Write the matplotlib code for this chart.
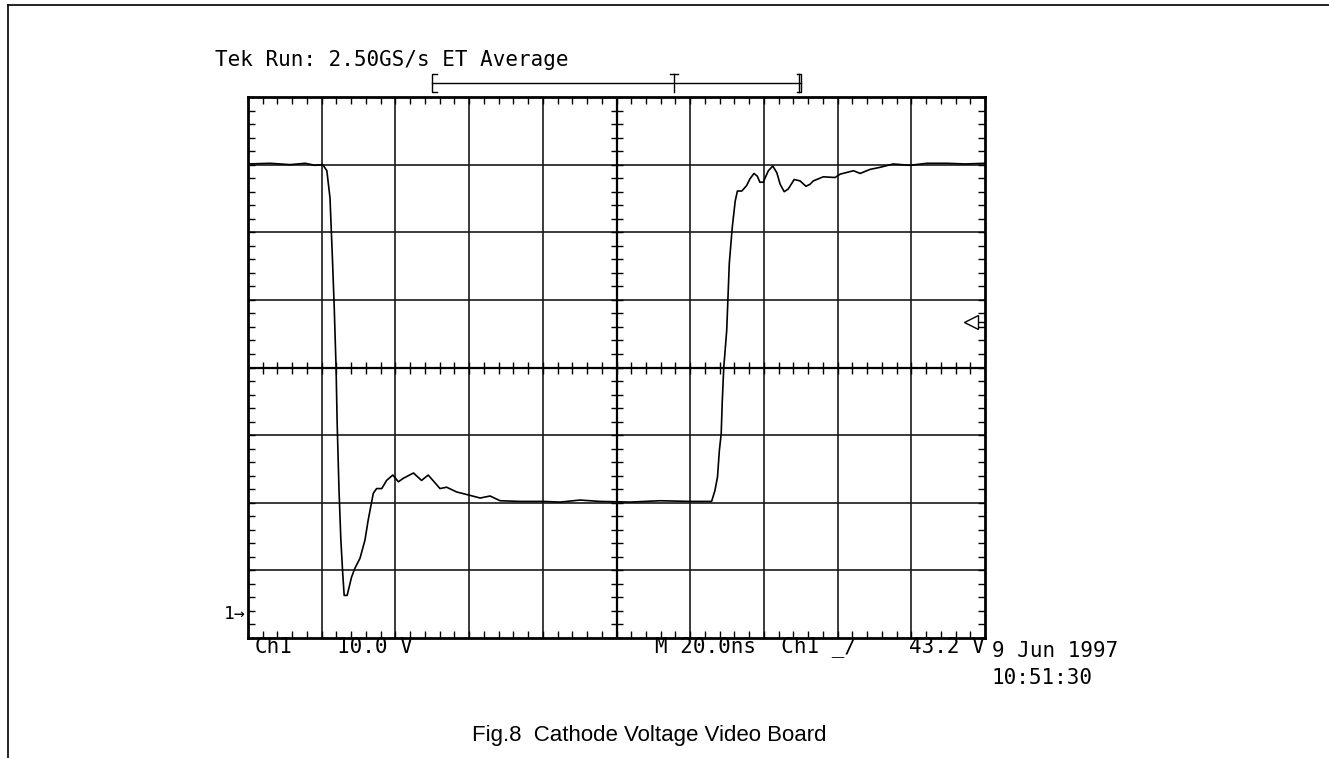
import numpy as np
import matplotlib
matplotlib.use("Agg")
from matplotlib import pyplot as plt
from matplotlib.lines import Line2D
from matplotlib.ticker import FixedLocator

# scope settings
T_DIV = 20.0        # ns / div
V_DIV = 10.0        # V / div
GND_DIV = 0.35      # ground marker position, divisions from bottom
TRIG_LEVEL = 43.2   # V
REC_START, REC_END, REC_TRIG = 50.0, 150.0, 115.6   # record view bar, ns

# trace (ns, V)
t_ns = [0.0, 6.0, 11.4, 15.5, 18.2, 20.3, 21.4, 22.25, 22.9, 23.4, 23.9, 24.2,
        24.7, 25.2, 25.7, 26.1, 26.9, 28.1, 29.0, 30.4, 31.75, 32.6, 34.0, 34.9,
        36.3, 37.6, 39.3, 40.8, 42.1, 44.9, 47.1, 48.9, 52.1, 53.9, 56.6, 60.2,
        63.0, 65.7, 68.4, 73.8, 80.1, 84.7, 90.1, 95.5, 103.7, 111.8, 119.9,
        125.8, 126.7, 127.4, 127.9, 128.4, 128.7, 129.1, 129.9, 130.6, 131.4,
        132.2, 132.8, 134.0, 135.3, 136.2, 137.3, 138.2, 138.9, 139.8, 141.2,
        142.4, 143.5, 144.4, 145.5, 146.6, 148.2, 149.8, 151.4, 152.5, 153.4,
        156.1, 159.3, 160.7, 164.3, 166.1, 168.8, 171.5, 175.1, 179.6, 184.2,
        189.6, 194.6, 200.0]
v_ch1 = [66.6, 66.7, 66.5, 66.7, 66.4, 66.5, 65.6, 61.6, 52.8, 45.4, 36.5, 28.2,
         18.3, 11.0, 6.1, 2.8, 2.8, 5.5, 6.8, 8.3, 11.0, 13.9, 17.9, 18.6,
         18.6, 19.8, 20.6, 19.6, 20.1, 20.9, 19.8, 20.6, 18.6, 18.8, 18.1, 17.6,
         17.2, 17.5, 16.8, 16.7, 16.7, 16.6, 16.9, 16.7, 16.6, 16.8, 16.7,
         16.7, 18.3, 20.3, 24.2, 26.7, 31.6, 36.5, 42.0, 51.9, 57.2,
         61.1, 62.6, 62.6, 63.4, 64.4, 65.2, 64.8, 63.9, 63.9, 65.6,
         66.3, 65.3, 63.6, 62.5, 62.9, 64.3, 64.1, 63.3, 63.6, 64.1,
         64.7, 64.6, 65.1, 65.6, 65.2, 65.8, 66.1, 66.6, 66.4, 66.7,
         66.7, 66.6, 66.7]

FONT = "DejaVu Sans Mono"

fig = plt.figure(figsize=(13.29, 7.58), dpi=100)
ax = fig.add_axes([0.1866, 0.1583, 0.5546, 0.7137])

x0, x1 = 0.0, 10 * T_DIV
y0, y1 = -GND_DIV * V_DIV, (8 - GND_DIV) * V_DIV
ax.set_xlim(x0, x1)
ax.set_ylim(y0, y1)

xmaj = np.arange(x0, x1 + 0.01, T_DIV)
ymaj = np.arange(y0, y1 + 0.01, V_DIV)
xmin = np.arange(x0, x1 + 0.01, T_DIV / 5)
ymin = np.arange(y0, y1 + 0.01, V_DIV / 5)

# grid
for x in xmaj[1:-1]:
    ax.axvline(x, color="#1a1a1a", lw=1.2, zorder=1)
for y in ymaj[1:-1]:
    ax.axhline(y, color="#1a1a1a", lw=1.2, zorder=1)
xc, yc = xmaj[5], ymaj[4]
ax.axvline(xc, color="black", lw=1.6, zorder=1)
ax.axhline(yc, color="black", lw=1.6, zorder=1)

# minor ticks on the border
ax.xaxis.set_major_locator(FixedLocator([]))
ax.yaxis.set_major_locator(FixedLocator([]))
ax.xaxis.set_minor_locator(FixedLocator(xmin))
ax.yaxis.set_minor_locator(FixedLocator(ymin))
ax.tick_params(which="minor", direction="in", length=5, width=1.0,
               top=True, bottom=True, left=True, right=True,
               labelbottom=False, labelleft=False)
for s in ax.spines.values():
    s.set_linewidth(2.0)

# ticks on the centre cross
ax.plot(xmin, [yc] * len(xmin), ls="none", marker="|", ms=8, mew=1.0,
        color="black", zorder=2)
ax.plot([xc] * len(ymin), ymin, ls="none", marker="_", ms=8, mew=1.0,
        color="black", zorder=2)

# trace
ax.plot(t_ns, v_ch1, color="black", lw=1.2, zorder=3)

# trigger level marker on the right
ax.plot([x1 - 2.5, x1], [TRIG_LEVEL, TRIG_LEVEL], color="black", lw=1.0,
        zorder=3, clip_on=False)
ax.plot([x1 - 3.8], [TRIG_LEVEL], marker="<", ms=10, mfc="white", mec="black",
        mew=1.0, zorder=4, clip_on=False)

# ground marker on the left
ax.text(x0 - 0.6, 0.0, "1\u2192", ha="right", va="center", fontsize=13,
        family=FONT, clip_on=False)

# record view bar above the graticule
bar_y = y1 + 2.1
ax.plot([REC_START, REC_END], [bar_y, bar_y], color="black", lw=1.0,
        clip_on=False)
ax.plot([REC_START + 1.2, REC_START, REC_START, REC_START + 1.2],
        [bar_y + 1.3, bar_y + 1.3, bar_y - 1.3, bar_y - 1.3],
        color="black", lw=1.0, clip_on=False)
ax.plot([REC_END - 1.0, REC_END, REC_END, REC_END - 1.0],
        [bar_y + 1.3, bar_y + 1.3, bar_y - 1.3, bar_y - 1.3],
        color="black", lw=1.0, clip_on=False)
ax.plot([REC_END - 0.4, REC_END - 0.4], [bar_y + 1.3, bar_y - 1.3],
        color="black", lw=1.0, clip_on=False)
ax.plot([REC_TRIG, REC_TRIG], [bar_y + 1.3, bar_y - 1.3], color="black",
        lw=1.0, clip_on=False)
ax.plot([REC_TRIG - 1.2, REC_TRIG + 1.2], [bar_y + 1.3, bar_y + 1.3],
        color="black", lw=1.0, clip_on=False)

# scope readouts
fs = 15
fig.text(215 / 1329, 1 - 60 / 758, "Tek Run: 2.50GS/s ET Average",
         ha="left", va="center", fontsize=fs, family=FONT)
fig.text(255 / 1329, 1 - 647 / 758, "Ch1", ha="left", va="center",
         fontsize=fs, family=FONT)
fig.text(337 / 1329, 1 - 647 / 758, "10.0 V", ha="left", va="center",
         fontsize=fs, family=FONT)
fig.text(655 / 1329, 1 - 647 / 758, "M 20.0ns  Ch1 _/", ha="left",
         va="center", fontsize=fs, family=FONT)
fig.text(985 / 1329, 1 - 647 / 758, "43.2 V", ha="right", va="center",
         fontsize=fs, family=FONT)
fig.text(992 / 1329, 1 - 651 / 758, "9 Jun 1997", ha="left", va="center",
         fontsize=fs, family=FONT)
fig.text(992 / 1329, 1 - 678 / 758, "10:51:30", ha="left", va="center",
         fontsize=fs, family=FONT)

# caption
fig.text(649 / 1329, 1 - 735 / 758, "Fig.8  Cathode Voltage Video Board",
         ha="center", va="center", fontsize=16, family="Liberation Sans")

# page frame
fig.add_artist(Line2D([8 / 1329, 1.0], [1 - 5 / 758, 1 - 5 / 758],
                      color="black", lw=1.2))
fig.add_artist(Line2D([8 / 1329, 8 / 1329], [0.0, 1 - 5 / 758],
                      color="black", lw=1.2))

fig.savefig("out.png", dpi=100)
